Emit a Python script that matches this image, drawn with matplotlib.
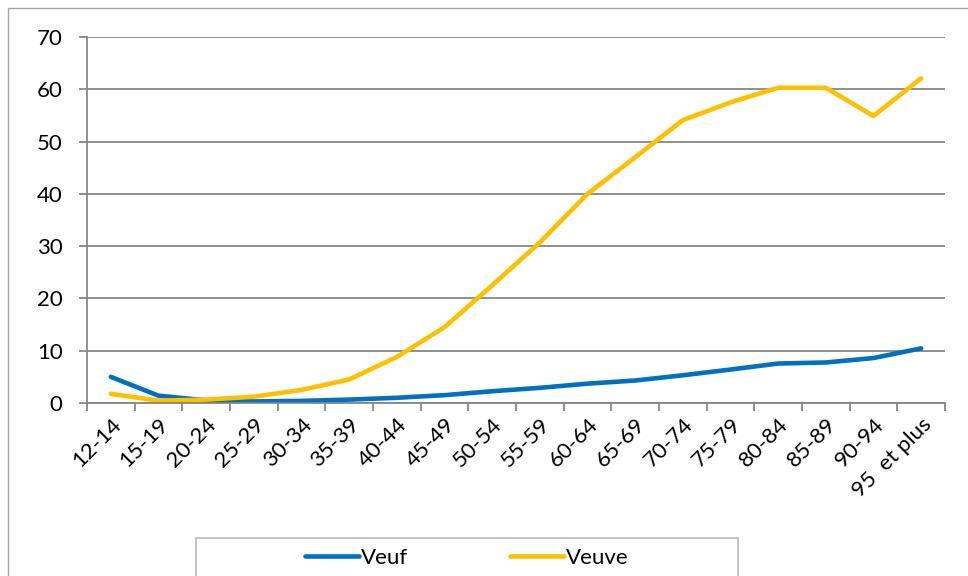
import matplotlib
matplotlib.use("Agg")
import matplotlib.pyplot as plt
from matplotlib.patches import Rectangle
from matplotlib.lines import Line2D
import numpy as np

categories = ["12-14", "15-19", "20-24", "25-29", "30-34", "35-39", "40-44", "45-49",
              "50-54", "55-59", "60-64", "65-69", "70-74", "75-79", "80-84", "85-89",
              "90-94", "95  et plus"]
veuf = [5.0, 1.4, 0.5, 0.3, 0.4, 0.65, 1.0, 1.5, 2.25, 2.9, 3.7, 4.3, 5.3, 6.4, 7.55,
        7.75, 8.6, 10.45]
veuve = [1.75, 0.45, 0.65, 1.2, 2.5, 4.5, 8.8, 14.5, 22.5, 30.7, 40.0, 47.0, 54.1,
         57.5, 60.3, 60.3, 54.9, 62.1]
yticks = [0, 10, 20, 30, 40, 50, 60, 70]

plt.rcParams['font.family'] = ['Lato', 'DejaVu Sans']

W, H = 968, 576
fig = plt.figure(figsize=(W / 100, H / 100), dpi=100)
fig.patch.set_facecolor("white")

# outer chart border
fig.patches.append(Rectangle((8 / W, -0.1), 1.1, 1 - 8 / H + 0.1, transform=fig.transFigure,
                             fill=False, edgecolor="#A6A6A6", linewidth=1.0))

ax = fig.add_axes([87 / W, 1 - 403 / H, (945 - 87) / W, (403 - 37) / H])
x = np.arange(len(categories))
ax.plot(x, veuf, color="#0070C0", linewidth=3.3, solid_capstyle="round", label="Veuf")
ax.plot(x, veuve, color="#FFC000", linewidth=3.3, solid_capstyle="round", label="Veuve")

ax.set_xlim(-0.5, len(categories) - 0.5)
ax.set_ylim(0, 70)
ax.set_yticks(yticks)
ax.set_yticklabels([str(v) for v in yticks], fontsize=16)
ax.yaxis.grid(True, color="#868686", linewidth=1.3)
ax.set_axisbelow(True)

ax.set_xticks(np.arange(-0.5, len(categories), 1.0))
ax.set_xticklabels([])
ax.set_xticks(x, minor=True)
ax.set_xticklabels(categories, minor=True, rotation=45, ha="right", va="top",
                   rotation_mode="anchor", fontsize=16)
ax.tick_params(axis="x", which="minor", length=0, pad=8)
ax.tick_params(axis="x", which="major", length=6, color="#868686", width=1.3)
ax.tick_params(axis="y", length=5.5, color="#868686", width=1.3, pad=12)

for s in ["top", "right"]:
    ax.spines[s].set_visible(False)
for s in ["left", "bottom"]:
    ax.spines[s].set_color("#868686")
    ax.spines[s].set_linewidth(1.3)

# legend box
lx0, ly0, lx1 = 196, 538, 738
fig.patches.append(Rectangle((lx0 / W, -0.1), (lx1 - lx0) / W, 1 - ly0 / H + 0.1,
                             transform=fig.transFigure, fill=False,
                             edgecolor="#BFBFBF", linewidth=1.3))
handles = [Line2D([], [], color="#0070C0", linewidth=3.3, solid_capstyle="round"),
           Line2D([], [], color="#FFC000", linewidth=3.3, solid_capstyle="round")]
fig.legend(handles, ["Veuf", "Veuve"], loc="center", bbox_to_anchor=(467 / W, 1 - 558 / H),
           ncol=2, frameon=False, fontsize=16, handlelength=2.4, handletextpad=0.1,
           columnspacing=4.6)

fig.savefig("out.png", dpi=100)
